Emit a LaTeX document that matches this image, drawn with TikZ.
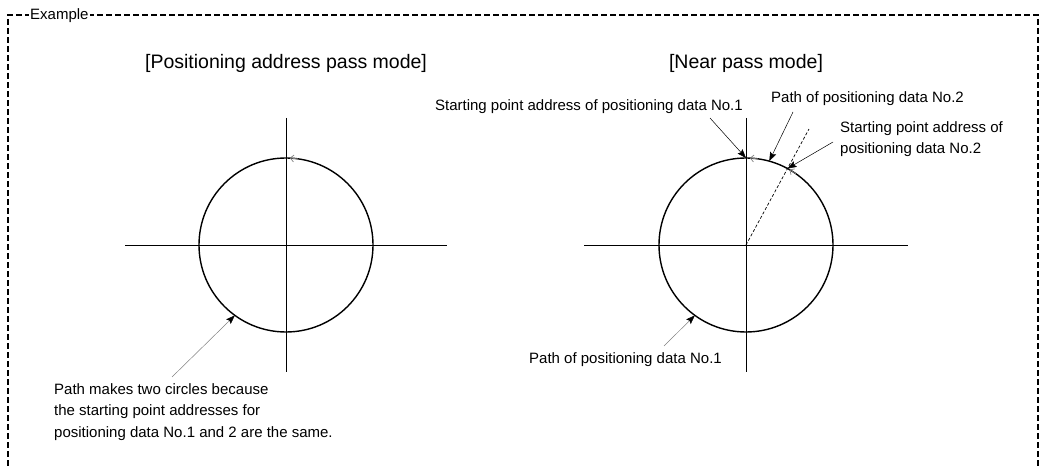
\documentclass[tikz,border=0pt]{standalone}
\usepackage{fontspec}
\setmainfont{Liberation Sans}
\usetikzlibrary{arrows.meta}

\begin{document}
\begin{tikzpicture}[x=1bp, y=-1bp,
  lbl/.style={font=\fontsize{15bp}{21bp}\selectfont, inner sep=0pt, align=left},
  ttl/.style={font=\fontsize{19.5bp}{24bp}\selectfont, inner sep=0pt},
  axis/.style={line width=0.9bp},
  wheel/.style={line width=1.4bp},
  leader/.style={line width=0.5bp, -{Stealth[length=9bp,width=6.5bp,inset=1.5bp,black]}},
  dirmark/.style={gray, line width=0.7bp, -{Straight Barb[length=3.5bp,width=7bp]}},
  frame/.style={line width=1.3bp, dash pattern=on 6bp off 3bp}]

\useasboundingbox (0,0) rectangle (1041,466);

% Radius of both circles
\def\R{87}

%---------------------------------------
% Frame
%---------------------------------------
\draw[frame] (8,466) -- (8,15) -- (1038,15) -- (1038,466);
\node[lbl, fill=white, inner xsep=1bp, anchor=base west] (exa) at (29,20) {Example};

%====================================================
% LEFT PANEL: positioning address pass mode
%====================================================
\coordinate (cL) at (286,245);
\node[ttl, anchor=base] (ttlL) at (286,69) {[Positioning address pass mode]};

% Axes
\draw[axis] (125,245) -- (447,245);
\draw[axis] (286,118) -- (286,372);

% Circle and direction
\draw[wheel] (cL) circle[radius=\R];
\draw[dirmark] ([shift={(-82:\R)}]cL) -- ([shift={(-87.5:\R)}]cL);

% Note (base = last line)
\node[lbl, anchor=base west] (noteL) at (54,437)
  {Path makes two circles because\\the starting point addresses for\\positioning data No.1 and 2 are the same.};
\coordinate (tNote) at (172,377);
\coordinate (pNote) at ([shift={(126:\R)}]cL);
\draw[leader, gray] (tNote) -- (pNote);

%====================================================
% RIGHT PANEL: near pass mode
%====================================================
\coordinate (cR) at (746,245);
\node[ttl, anchor=base] (ttlR) at (746,69) {[Near pass mode]};

% Axes
\draw[axis] (584,245) -- (908,245);
\draw[axis] (746,118) -- (746,372);

% Circle, radius to start of No.2, directions
\draw[wheel] (cR) circle[radius=\R];
\coordinate (endR) at ([shift={(-61.5:132)}]cR);
\draw[line width=0.7bp, dash pattern=on 3bp off 2bp] (cR) -- (endR);
\draw[dirmark] ([shift={(-82:\R)}]cR) -- ([shift={(-87.5:\R)}]cR);
\draw[dirmark] ([shift={(-55:\R)}]cR) -- ([shift={(-60:\R)}]cR);

% Labels
\node[lbl, anchor=base east] (lblS1) at (743,111) {Starting point address of positioning data No.1};
\node[lbl, anchor=base west] (lblP2) at (771,103) {Path of positioning data No.2};
\node[lbl, anchor=base west] (lblS2) at (840,154) {Starting point address of\\positioning data No.2};
\node[lbl, anchor=base east] (lblP1) at (722,364) {Path of positioning data No.1};

% Leaders
\coordinate (tS1) at (710,118);
\coordinate (tP2) at (793,112);
\coordinate (tS2) at (833,142);
\coordinate (tP1) at (664,346);
\coordinate (pS1) at ([shift={(-90:\R)}]cR);
\coordinate (pP2) at ([shift={(-74.5:\R)}]cR);
\coordinate (pS2) at ([shift={(-61.5:\R)}]cR);
\coordinate (pP1) at ([shift={(126:\R)}]cR);
\draw[leader] (tS1) -- (pS1);
\draw[leader] (tP2) -- (pP2);
\draw[leader] (tS2) -- (pS2);
\draw[leader, gray] (tP1) -- (pP1);

\end{tikzpicture}
\end{document}
